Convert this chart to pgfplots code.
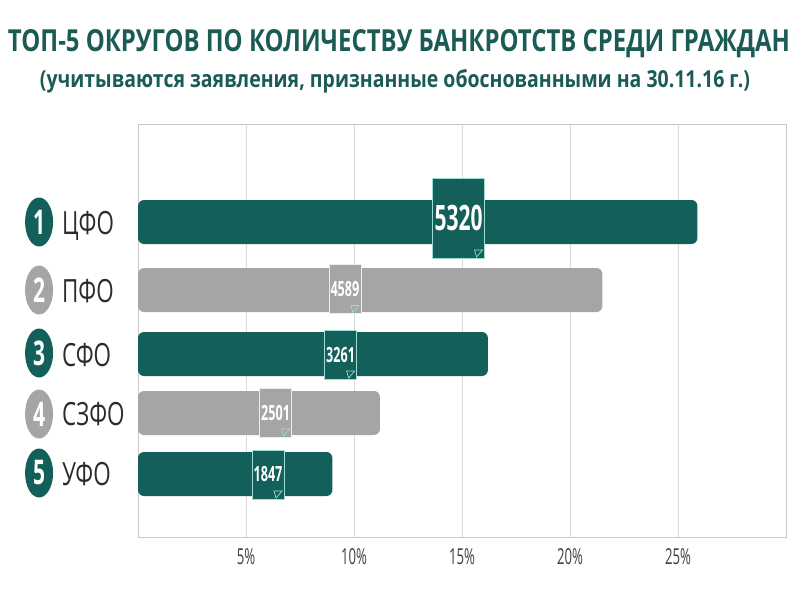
\documentclass[border=0pt]{standalone}
\usepackage{pgfplots}
\pgfplotsset{compat=1.18}
\usepackage{graphicx}
\usepackage{fontspec}
\setmainfont{Open Sans}
\usetikzlibrary{shapes.geometric}

\definecolor{barteal}{HTML}{135F59}
\definecolor{bargray}{HTML}{A5A5A5}
\definecolor{titlec}{HTML}{1B5B55}
\definecolor{labc}{HTML}{2B2B2B}
\definecolor{tickc}{HTML}{404040}
\definecolor{gridc}{HTML}{DADADA}
\definecolor{framec}{HTML}{C8C8C8}
\definecolor{tagb}{HTML}{9FDCD6}

% squeeze text sideways, the source picture is narrowed
\newcommand{\sq}[2][0.6]{\scalebox{#1}[1]{#2}}

\tikzset{
  tag/.style={fill=#1, draw=tagb, line width=0.8pt, inner sep=0pt, text=white,
    font=\bfseries\fontsize{21}{21}\selectfont,
    minimum width=32pt, minimum height=49pt,
    path picture={\draw[tagb, line width=0.7pt]
      ([shift={(-10pt,8pt)}]path picture bounding box.south east) -- ++(8pt,0pt) -- ++(-6pt,-7pt) -- cycle;}},
  num/.style={ellipse, fill=#1, inner sep=0pt, minimum width=28pt, minimum height=49pt,
    text=white, font=\bfseries\fontsize{34}{34}\selectfont},
  name/.style={anchor=base west, inner sep=0pt, text=labc, font=\fontsize{32}{32}\selectfont}
}

\begin{document}
\begin{tikzpicture}
\useasboundingbox (0pt,0pt) rectangle (800pt,600pt);
\node[anchor=base, inner sep=0pt, text=titlec] at (399pt,548pt)
  {\resizebox{782pt}{22pt}{\bfseries ТОП-5 ОКРУГОВ ПО КОЛИЧЕСТВУ БАНКРОТСТВ СРЕДИ ГРАЖДАН}};
\node[anchor=base, inner sep=0pt, text=titlec] at (395pt,512pt)
  {\resizebox{710pt}{18pt}{\bfseries (учитываются заявления, признанные обоснованными на 30.11.16 г.)}};

\begin{axis}[
    at={(138pt,63pt)}, anchor=south west,
    scale only axis, width=648pt, height=413pt,
    xmin=0, xmax=30, ymin=124, ymax=537, y dir=reverse,
    xtick={5,10,15,20,25},
    xticklabels={\sq{5\%},\sq{10\%},\sq{15\%},\sq{20\%},\sq{25\%}},
    ytick=\empty,
    xmajorgrids,
    major grid style={draw=gridc, line width=0.8pt},
    axis line style={draw=framec, line width=0.8pt},
    major tick length=0pt,
    xticklabel style={font=\fontsize{22}{22}\selectfont, text=tickc, yshift=-8pt},
    clip=false
]
% share of all cases, %
\addplot[xbar, bar shift=0pt, bar width=44, fill=barteal, draw=none, rounded corners=6pt]
  coordinates {(25.9,222) (16.2,354) (9.0,474)};
\addplot[xbar, bar shift=0pt, bar width=44, fill=bargray, draw=none, rounded corners=6pt]
  coordinates {(21.5,290) (11.2,413)};

% tags with counts
\node[tag=barteal, minimum width=52pt, minimum height=80pt, font=\bfseries\fontsize{35}{35}\selectfont]
  at (axis cs:14.84,218) {\sq{5320}};
\node[tag=bargray, draw=white!85!gray] at (axis cs:9.58,289) {\sq{4589}};
\node[tag=barteal] at (axis cs:9.38,354.5) {\sq{3261}};
\node[tag=bargray, draw=white!85!gray] at (axis cs:6.37,412.5) {\sq{2501}};
\node[tag=barteal] at (axis cs:6.02,474.5) {\sq{1847}};

% rank and district
\node[num=barteal] at (axis cs:-4.58,222) {\sq[0.62]{1}};
\node[num=bargray] at (axis cs:-4.58,290) {\sq[0.62]{2}};
\node[num=barteal] at (axis cs:-4.58,353) {\sq[0.62]{3}};
\node[num=bargray] at (axis cs:-4.58,414) {\sq[0.62]{4}};
\node[num=barteal] at (axis cs:-4.58,473) {\sq[0.62]{5}};
\node[name] at (axis cs:-3.52,234) {\sq[0.7]{ЦФО}};
\node[name] at (axis cs:-3.52,302) {\sq[0.7]{ПФО}};
\node[name] at (axis cs:-3.52,366) {\sq[0.7]{СФО}};
\node[name] at (axis cs:-3.52,425) {\sq[0.7]{СЗФО}};
\node[name] at (axis cs:-3.52,485) {\sq[0.7]{УФО}};
\end{axis}
\end{tikzpicture}
\end{document}
